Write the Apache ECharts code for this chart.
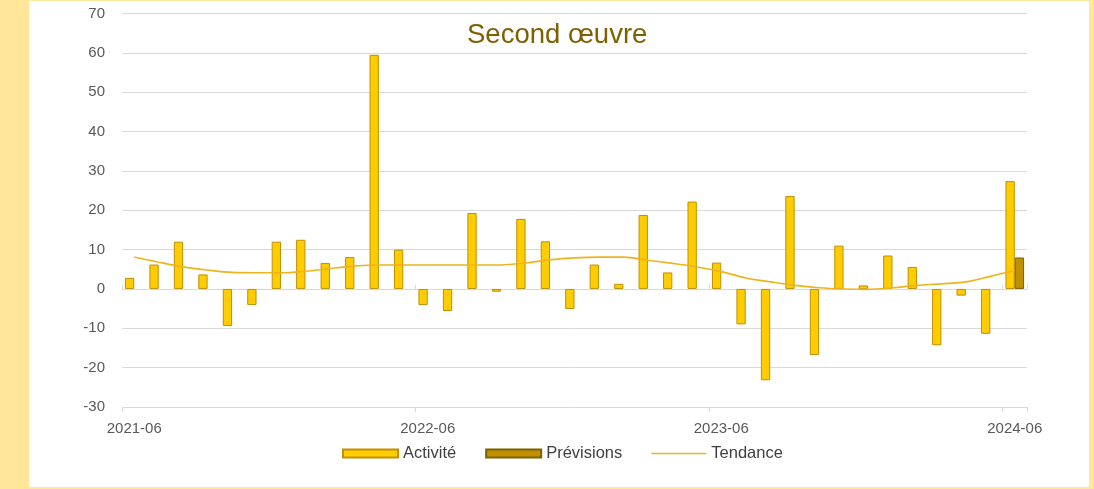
<!DOCTYPE html>
<html>
<head>
<meta charset="utf-8">
<script src="https://cdn.jsdelivr.net/npm/echarts@6/dist/echarts.min.js"></script>
<style>
  html, body { margin: 0; padding: 0; width: 1094px; height: 489px; overflow: hidden; background: #FFE699; }
  #panel { position: absolute; left: 29px; top: 1px; width: 1060px; height: 486px; background: #ffffff; }
  #chart { position: absolute; left: 0; top: 0; width: 1094px; height: 489px; }
</style>
</head>
<body>
<div id="panel"></div>
<div id="chart"></div>
<script>
// Monthly categories, 2021-06 .. 2024-06
const months = [
  '2021-06','2021-07','2021-08','2021-09','2021-10','2021-11','2021-12',
  '2022-01','2022-02','2022-03','2022-04','2022-05','2022-06','2022-07',
  '2022-08','2022-09','2022-10','2022-11','2022-12','2023-01','2023-02',
  '2023-03','2023-04','2023-05','2023-06','2023-07','2023-08','2023-09',
  '2023-10','2023-11','2023-12','2024-01','2024-02','2024-03','2024-04',
  '2024-05','2024-06'
];

// Activity (monthly change)
const activite = [
  2.8, 6.2, 12.0, 3.7, -9.4, -4.1, 12.0, 12.5, 6.6, 8.1, 59.5, 10.0,
  -4.1, -5.6, 19.3, -0.7, 17.8, 12.1, -5.1, 6.2, 1.3, 18.8, 4.2, 22.2,
  6.7, -9.0, -23.2, 23.6, -16.8, 11.0, 0.9, 8.5, 5.6, -14.3, -1.7, -11.4,
  27.4
];

// Forecast (last month only)
const previsions = [
  null, null, null, null, null, null, null, null, null, null, null, null,
  null, null, null, null, null, null, null, null, null, null, null, null,
  null, null, null, null, null, null, null, null, null, null, null, null,
  8.0
];

// Smoothed trend
const tendance = [
  8.1, 6.8, 5.6, 4.8, 4.2, 4.1, 4.1, 4.5, 5.2, 5.8, 6.1, 6.1,
  6.1, 6.1, 6.1, 6.1, 6.6, 7.4, 7.9, 8.1, 8.1, 7.3, 6.5, 5.6,
  4.4, 2.8, 1.8, 0.9, 0.3, 0.0, -0.1, 0.3, 0.9, 1.3, 1.8, 3.2,
  4.7
];

const titleText = 'Second œuvre';
const seriesNames = ['Activité', 'Prévisions', 'Tendance'];

const FONT = '"Liberation Sans", Arial, sans-serif';
const GRID_COLOR = '#D9D9D9';
const LABEL_COLOR = '#595959';
const TREND_COLOR = '#EDB41E';

const chart = echarts.init(document.getElementById('chart'), null, { renderer: 'canvas' });

chart.setOption({
  backgroundColor: 'transparent',
  animation: false,
  title: {
    text: titleText,
    left: 467,
    top: 21,
    padding: 0,
    textStyle: { fontFamily: FONT, fontSize: 27.5, fontWeight: 'normal', color: '#7F6000' }
  },
  legend: {
    data: [
      { name: seriesNames[0], icon: 'rect' },
      { name: seriesNames[1], icon: 'rect' },
      // plain stroke for the trend entry
      { name: seriesNames[2], icon: 'path://M0,0H55V1.6H0Z' }
    ],
    left: 342,
    top: 445,
    padding: 0,
    itemWidth: 55,
    itemHeight: 8,
    itemGap: 29,
    textStyle: { fontFamily: FONT, fontSize: 16.5, color: '#404040' }
  },
  grid: { left: 122, right: 67, top: 13.5, bottom: 82, containLabel: false },
  xAxis: [
    {
      // labels along the bottom edge
      type: 'category',
      data: months,
      position: 'bottom',
      boundaryGap: true,
      axisLine: { show: false, onZero: false },
      axisTick: { show: false },
      axisLabel: { interval: 11, margin: 14, fontFamily: FONT, fontSize: 15, color: LABEL_COLOR },
      splitLine: { show: false }
    },
    {
      // zero line with yearly tick marks (upper half)
      type: 'category',
      data: months,
      position: 'top',
      boundaryGap: true,
      axisLine: { show: true, onZero: true, lineStyle: { color: GRID_COLOR, width: 1 } },
      axisTick: { show: true, interval: 11, length: 4, lineStyle: { color: GRID_COLOR } },
      axisLabel: { show: false },
      splitLine: { show: false }
    },
    {
      // lower half of the yearly tick marks
      type: 'category',
      data: months,
      position: 'bottom',
      boundaryGap: true,
      axisLine: { show: false, onZero: true },
      axisTick: { show: true, interval: 11, length: 5, lineStyle: { color: GRID_COLOR } },
      axisLabel: { show: false },
      splitLine: { show: false }
    }
  ],
  yAxis: {
    type: 'value',
    min: -30,
    max: 70,
    interval: 10,
    axisLine: { show: false },
    axisTick: { show: false },
    axisLabel: { margin: 17, fontFamily: FONT, fontSize: 15, color: LABEL_COLOR },
    splitLine: { show: true, lineStyle: { color: GRID_COLOR, width: 1 } }
  },
  series: [
    {
      name: seriesNames[0],
      type: 'bar',
      xAxisIndex: 0,
      data: activite,
      barWidth: 9.3,
      barGap: '0%',
      itemStyle: { color: '#FFCC00', borderColor: '#BF9000', borderWidth: 1 },
      z: 2
    },
    {
      name: seriesNames[1],
      type: 'bar',
      xAxisIndex: 0,
      data: previsions,
      barWidth: 9.3,
      barGap: '0%',
      itemStyle: { color: '#BF9000', borderColor: '#7F6000', borderWidth: 1 },
      z: 2
    },
    {
      name: seriesNames[2],
      type: 'line',
      xAxisIndex: 0,
      data: tendance,
      smooth: 0.35,
      symbol: 'none',
      showSymbol: false,
      lineStyle: { color: TREND_COLOR, width: 1.6 },
      itemStyle: { color: TREND_COLOR, borderWidth: 0 },
      z: 4
    }
  ]
});
</script>
</body>
</html>
